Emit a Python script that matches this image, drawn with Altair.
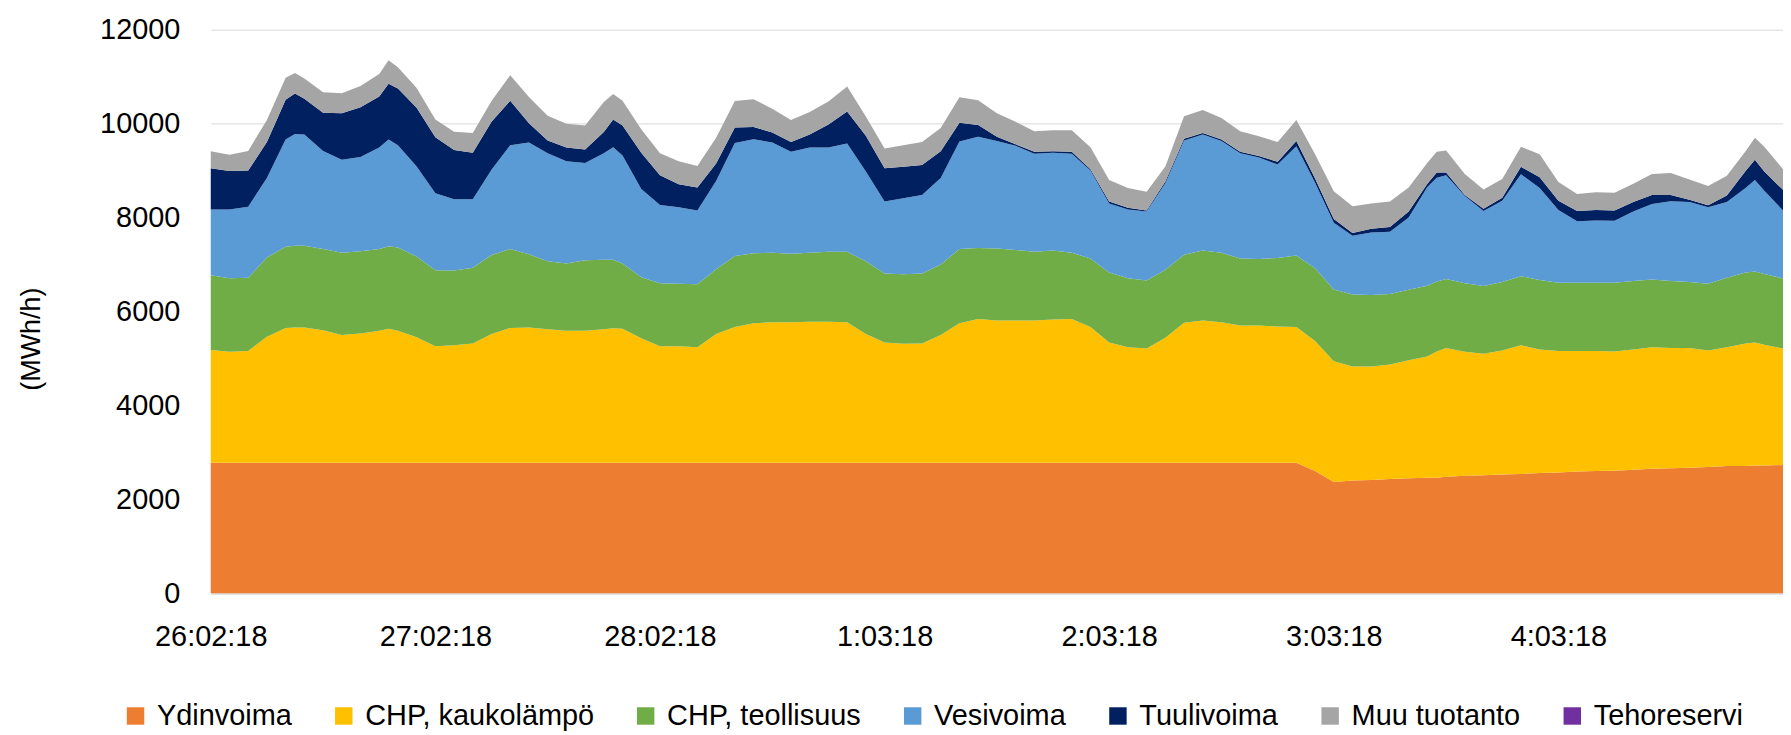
import altair as alt
import pandas as pd

FONT = "Liberation Sans"

# hours since 26.02.2018 00:00
hours = [
    0, 2, 4, 6, 8, 9, 10, 12, 14, 16,
    18, 19, 20, 22, 24, 26, 28, 30, 32, 34,
    36, 38, 40, 42, 43, 44, 46, 48, 50, 52,
    54, 56, 58, 60, 62, 64, 66, 68, 70, 72,
    74, 76, 78, 80, 82, 84, 86, 88, 90, 92,
    94, 96, 98, 100, 102, 104, 106, 108, 110, 112,
    114, 116, 118, 120, 122, 124, 126, 128, 130, 131,
    132, 134, 136, 138, 140, 142, 144, 146, 148, 150,
    152, 154, 156, 158, 160, 162, 164, 165, 166, 168,
]

day_ticks = [0, 24, 48, 72, 96, 120, 144]
day_labels = ["26:02:18", "27:02:18", "28:02:18", "1:03:18", "2:03:18", "3:03:18", "4:03:18"]
y_ticks = [0, 2000, 4000, 6000, 8000, 10000, 12000]

series_names = ["Ydinvoima", "CHP, kaukolämpö", "CHP, teollisuus", "Vesivoima",
                "Tuulivoima", "Muu tuotanto", "Tehoreservi"]
series_colors = ["#ED7D31", "#FFC000", "#70AD47", "#5B9BD5", "#002060", "#A5A5A5", "#7030A0"]

ydinvoima = [
    2780, 2780, 2780, 2780, 2780, 2780, 2780, 2780, 2780, 2780,
    2780, 2780, 2780, 2780, 2780, 2780, 2780, 2780, 2780, 2780,
    2780, 2780, 2780, 2780, 2780, 2780, 2780, 2780, 2780, 2780,
    2780, 2780, 2780, 2780, 2780, 2780, 2780, 2780, 2780, 2780,
    2780, 2780, 2780, 2780, 2780, 2780, 2780, 2780, 2780, 2780,
    2780, 2780, 2780, 2780, 2780, 2780, 2780, 2780, 2780, 2780,
    2780, 2780, 2600, 2370, 2400, 2410, 2430, 2450, 2460, 2460,
    2480, 2500, 2510, 2530, 2540, 2560, 2570, 2590, 2600, 2610,
    2630, 2650, 2660, 2670, 2690, 2710, 2710, 2720, 2720, 2730,
]
chp_kaukolampo = [
    2400, 2360, 2380, 2680, 2870, 2880, 2880, 2820, 2720, 2750,
    2810, 2850, 2810, 2670, 2480, 2500, 2540, 2740, 2870, 2880,
    2840, 2810, 2810, 2840, 2860, 2850, 2650, 2480, 2480, 2460,
    2740, 2890, 2970, 2990, 2990, 3000, 3000, 2990, 2740, 2560,
    2530, 2540, 2720, 2970, 3060, 3030, 3030, 3030, 3050, 3060,
    2890, 2560, 2460, 2430, 2660, 2980, 3030, 2990, 2920, 2920,
    2900, 2890, 2770, 2570, 2430, 2420, 2440, 2510, 2580, 2690,
    2740, 2640, 2590, 2640, 2740, 2630, 2590, 2570, 2560, 2540,
    2560, 2590, 2560, 2550, 2480, 2530, 2610, 2620, 2570, 2480,
]
chp_teollisuus = [
    1590, 1570, 1560, 1690, 1730, 1740, 1740, 1730, 1750, 1750,
    1740, 1760, 1770, 1720, 1620, 1590, 1610, 1680, 1680, 1560,
    1450, 1430, 1500, 1480, 1460, 1390, 1300, 1340, 1330, 1340,
    1380, 1510, 1490, 1480, 1460, 1470, 1490, 1500, 1550, 1470,
    1480, 1490, 1500, 1580, 1510, 1530, 1500, 1460, 1470, 1410,
    1460, 1490, 1470, 1450, 1450, 1450, 1490, 1480, 1430, 1420,
    1460, 1520, 1550, 1530, 1530, 1520, 1500, 1500, 1510, 1490,
    1470, 1460, 1440, 1460, 1470, 1480, 1450, 1450, 1450, 1460,
    1460, 1440, 1430, 1410, 1420, 1480, 1510, 1510, 1510, 1490,
]
vesivoima = [
    1400, 1460, 1510, 1690, 2280, 2380, 2370, 2090, 1980, 2010,
    2160, 2270, 2180, 1920, 1640, 1520, 1460, 1820, 2210, 2380,
    2300, 2180, 2070, 2270, 2400, 2300, 1880, 1670, 1630, 1570,
    1880, 2410, 2430, 2350, 2170, 2240, 2220, 2310, 1910, 1530,
    1620, 1670, 1840, 2290, 2370, 2290, 2220, 2090, 2080, 2110,
    1870, 1470, 1460, 1470, 1840, 2430, 2470, 2380, 2240, 2160,
    1990, 2330, 1820, 1420, 1250, 1330, 1330, 1540, 2100, 2210,
    2210, 1860, 1600, 1730, 2170, 1960, 1550, 1310, 1330, 1320,
    1480, 1610, 1700, 1700, 1630, 1610, 1800, 1950, 1770, 1450,
]
tuulivoima = [
    880, 820, 770, 770, 850, 860, 760, 810, 990, 1060,
    1090, 1190, 1210, 1250, 1190, 1050, 990, 1020, 950, 410,
    270, 290, 290, 450, 590, 640, 770, 630, 490, 490,
    370, 330, 260, 210, 210, 280, 490, 680, 760, 710,
    670, 640, 570, 400, 250, 90, 30, 40, 30, 40,
    30, 40, 40, 20, 40, 40, 30, 30, 30, 30,
    60, 110, 90, 80, 60, 80, 100, 130, 70, 110,
    60, 20, 50, 60, 160, 230, 200, 220, 220, 220,
    200, 190, 130, 50, 40, 140, 360, 430, 410, 440,
]
muu_tuotanto = [
    360, 350, 420, 470, 470, 440, 430, 440, 430, 450,
    480, 500, 450, 420, 380, 390, 420, 440, 540, 560,
    530, 510, 510, 640, 540, 530, 500, 470, 490, 460,
    550, 560, 590, 510, 470, 480, 490, 530, 410, 420,
    460, 490, 500, 540, 530, 500, 480, 440, 450, 460,
    470, 460, 420, 400, 320, 480, 490, 460, 440, 420,
    420, 450, 520, 590, 570, 540, 540, 510, 450, 440,
    470, 450, 410, 400, 430, 490, 400, 360, 380, 380,
    390, 450, 470, 430, 410, 420, 420, 470, 530, 440,
]
tehoreservi = [
    0, 0, 0, 0, 0, 0, 0, 0, 0, 0,
    0, 0, 0, 0, 0, 0, 0, 0, 0, 0,
    0, 0, 0, 0, 0, 0, 0, 0, 0, 0,
    0, 0, 0, 0, 0, 0, 0, 0, 0, 0,
    0, 0, 0, 0, 0, 0, 0, 0, 0, 0,
    0, 0, 0, 0, 0, 0, 0, 0, 0, 0,
    0, 0, 0, 0, 0, 0, 0, 0, 0, 0,
    0, 0, 0, 0, 0, 0, 0, 0, 0, 0,
    0, 0, 0, 0, 0, 0, 0, 0, 0, 0,
]

series_values = [ydinvoima, chp_kaukolampo, chp_teollisuus, vesivoima,
                 tuulivoima, muu_tuotanto, tehoreservi]

rows = []
for k, (name, vals) in enumerate(zip(series_names, series_values)):
    for h, v in zip(hours, vals):
        rows.append({"hour": h, "series": name, "value": v, "order": k})
df = pd.DataFrame(rows)

label_expr = "[" + ",".join("'" + s + "'" for s in day_labels) + "][round(datum.value / 24)]"

chart = alt.Chart(df).mark_area(interpolate="linear").encode(
    x=alt.X(
        "hour:Q",
        scale=alt.Scale(domain=[0, 168], nice=False, zero=False),
        axis=alt.Axis(
            values=day_ticks, labelExpr=label_expr, title=None, grid=False,
            ticks=False, tickSize=0, domain=True, domainColor="#d9d9d9", domainWidth=1,
            labelFont=FONT, labelFontSize=29, labelColor="#000000", labelPadding=30,
            labelFlush=False, labelOverlap=False,
        ),
    ),
    y=alt.Y(
        "value:Q",
        stack="zero",
        scale=alt.Scale(domain=[0, 12000], nice=False),
        axis=alt.Axis(
            values=y_ticks, format="d", title="(MWh/h)", grid=True,
            gridColor="#d9d9d9", gridWidth=1, domain=False, ticks=False, tickSize=0,
            labelFont=FONT, labelFontSize=29, labelColor="#000000", labelPadding=31,
            titleFont=FONT, titleFontSize=27, titleFontWeight="normal", titleColor="#000000",
            titleAngle=270, titleX=-180, titleY=310, titleAlign="center", titleBaseline="middle",
        ),
    ),
    color=alt.Color(
        "series:N",
        scale=alt.Scale(domain=series_names, range=series_colors),
        sort=series_names,
        legend=alt.Legend(
            title=None, orient="none", legendX=-90, legendY=674, direction="horizontal",
            columns=7, symbolType="square", symbolSize=306, symbolStrokeWidth=0,
            symbolOpacity=1, labelFont=FONT, labelFontSize=29, labelColor="#000000",
            labelLimit=400, labelOffset=7, columnPadding=37, padding=0, rowPadding=0,
        ),
    ),
    order=alt.Order("order:Q", sort="ascending"),
).properties(
    width=1578,
    height=565.5,
    autosize=alt.AutoSizeParams(type="none"),
    padding={"left": 203.5, "top": 20.5, "right": 0, "bottom": 140},
).configure_view(stroke=None)

chart.save("out.html", embed_options={"renderer": "svg", "actions": False})
